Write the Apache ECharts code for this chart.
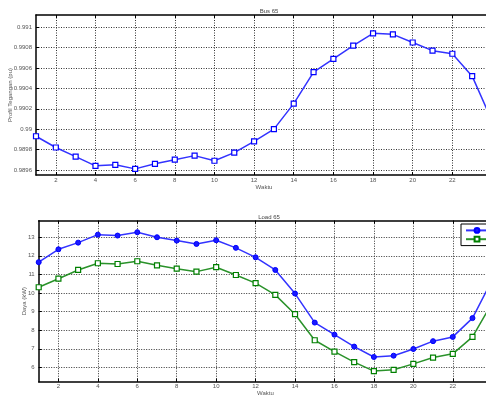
<!DOCTYPE html>
<html><head><meta charset="utf-8">
<script src="https://cdn.jsdelivr.net/npm/echarts@6/dist/echarts.min.js"></script>
<style>html,body{margin:0;padding:0;background:#fff;overflow:hidden}#c{width:486px;height:397px}</style>
</head><body><div id="c"></div>
<script>
const hours = [1,2,3,4,5,6,7,8,9,10,11,12,13,14,15,16,17,18,19,20,21,22,23,24];
const busVoltage = [0.98993,0.98982,0.98973,0.98964,0.98965,0.98961,0.98966,0.98970,0.98974,0.98969,0.98977,0.98988,0.99000,0.99025,0.99056,0.99069,0.99082,0.99094,0.99093,0.99085,0.99077,0.99074,0.99052,0.99008];
const loadP = [11.66,12.35,12.71,13.14,13.09,13.27,13.0,12.82,12.64,12.84,12.43,11.92,11.24,9.97,8.41,7.76,7.12,6.56,6.63,6.99,7.41,7.64,8.65,10.7];
const loadQ = [10.31,10.77,11.24,11.6,11.56,11.71,11.49,11.31,11.15,11.39,10.97,10.53,9.9,8.86,7.46,6.85,6.28,5.8,5.87,6.19,6.53,6.73,7.64,9.48];
const xTicks = [2,4,6,8,10,12,14,16,18,20,22,24];
const vTicks = [0.9896,0.9898,0.99,0.9902,0.9904,0.9906,0.9908,0.991];
const pTicks = [6,7,8,9,10,11,12,13];

const FONT = 'Liberation Sans';
const lblStyle = {color:'#555', fontSize:6, fontFamily:FONT};
const gridLine = {show:true, lineStyle:{color:'#333', type:[1,1.5], width:1}};
const axLine = {show:true, onZero:false, lineStyle:{color:'#000', width:1.5}};

function xAxes(gi){
  return [{
    type:'value', gridIndex:gi, min:1, max:24, position:'bottom',
    name:'Waktu', nameLocation:'middle', nameGap:9, nameMoveOverlap:false,
    nameTextStyle:{color:'#555', fontSize:6, fontFamily:FONT},
    axisLine:axLine, axisTick:{show:true, inside:true, length:3, customValues:xTicks, lineStyle:{color:'#000'}},
    axisLabel:Object.assign({customValues:xTicks, margin:2}, lblStyle),
    splitLine:gridLine
  },{
    type:'value', gridIndex:gi, min:1, max:24, position:'top',
    axisLine:axLine, axisTick:{show:true, inside:true, length:3, customValues:xTicks, lineStyle:{color:'#000'}},
    axisLabel:{show:false}, splitLine:{show:false}
  }];
}
function yAxes(gi, min, max, ticks, name, gap, fmt){
  return [{
    type:'value', gridIndex:gi, min:min, max:max, position:'left',
    name:name, nameLocation:'middle', nameGap:gap, nameMoveOverlap:false,
    nameTextStyle:{color:'#555', fontSize:6, fontFamily:FONT},
    axisLine:axLine, axisTick:{show:true, inside:true, length:3, customValues:ticks, lineStyle:{color:'#000'}},
    axisLabel:Object.assign({customValues:ticks, margin:4, formatter:fmt}, lblStyle),
    splitLine:gridLine
  },{
    type:'value', gridIndex:gi, min:min, max:max, position:'right',
    axisLine:axLine, axisTick:{show:false}, axisLabel:{show:false}, splitLine:{show:false}
  }];
}

const chart = echarts.init(document.getElementById('c'), null, {renderer:'canvas'});
chart.setOption({
  animation:false,
  backgroundColor:'#fff',
  title:[
    {text:'Bus 65', left:264, top:3, textAlign:'center', textStyle:{fontSize:6, fontWeight:'normal', color:'#444', fontFamily:FONT}},
    {text:'Load 65', left:264, top:209, textAlign:'center', textStyle:{fontSize:6, fontWeight:'normal', color:'#444', fontFamily:FONT}}
  ],
  legend:{
    left:461, top:224, orient:'vertical', backgroundColor:'#fff', borderColor:'#000', borderWidth:1,
    padding:[3,4], itemGap:2, itemWidth:22, itemHeight:6,
    textStyle:{fontSize:6, color:'#333', fontFamily:FONT},
    data:['P','Q']
  },
  grid:[
    {left:36, top:15, height:160, width:456, containLabel:false, outerBoundsMode:'none'},
    {left:38.7, top:220.7, height:161, width:453.5, containLabel:false, outerBoundsMode:'none'}
  ],
  xAxis:[].concat(xAxes(0), xAxes(1)),
  yAxis:[].concat(
    yAxes(0, 0.98955, 0.99112, vTicks, 'Profil Tegangan (pu)', 23, v => String(parseFloat(v.toFixed(4)))),
    yAxes(1, 5.23, 13.89, pTicks, 'Daya (kW)', 11, v => String(Math.round(v)))
  ),
  series:[
    {type:'line', xAxisIndex:0, yAxisIndex:0, data:hours.map((h,i)=>[h,busVoltage[i]]),
     color:'#1a1aff', lineStyle:{width:1.5, color:'#3333ff'}, symbol:'rect', symbolSize:5,
     itemStyle:{color:'#fff', borderColor:'#0000ff', borderWidth:1.2}},
    {name:'P', type:'line', xAxisIndex:2, yAxisIndex:2, data:hours.map((h,i)=>[h,loadP[i]]),
     lineStyle:{width:1.5, color:'#3333ff'}, symbol:'circle', symbolSize:5,
     itemStyle:{color:'#1a1aff', borderColor:'#0000ff', borderWidth:1}},
    {name:'Q', type:'line', xAxisIndex:2, yAxisIndex:2, data:hours.map((h,i)=>[h,loadQ[i]]),
     lineStyle:{width:1.5, color:'#2a922a'}, symbol:'rect', symbolSize:5,
     itemStyle:{color:'#fff', borderColor:'#008000', borderWidth:1.2}}
  ]
});
</script></body></html>
